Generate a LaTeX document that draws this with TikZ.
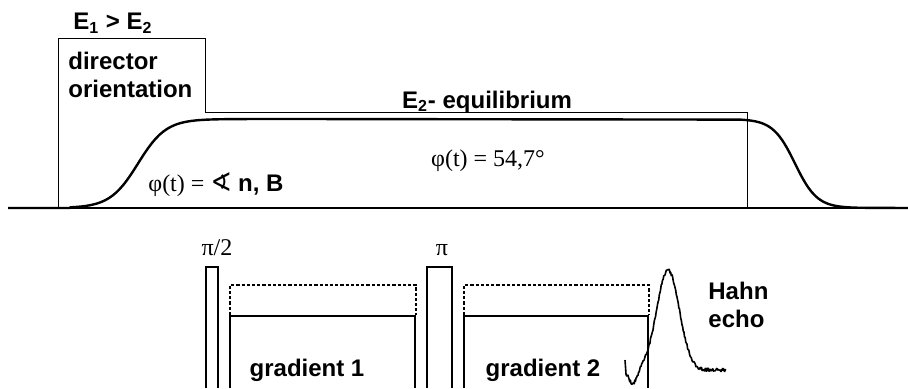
\documentclass[tikz,border=0pt]{standalone}
\usepackage{fontspec}
\setmainfont{Liberation Serif}
\setsansfont{Liberation Sans}
\newfontfamily\anglefont{DejaVu Sans}
\usetikzlibrary{positioning}
\tikzset{
  lbl/.style={font=\sffamily\bfseries\fontsize{12}{14}\selectfont, inner sep=0pt},
  formula/.style={font=\rmfamily\fontsize{12}{14}\selectfont, inner sep=0pt},
  field/.style={line width=0.5pt},
  trace/.style={line width=1.2pt, line join=round},
  pulse/.style={line width=0.9pt},
  gradmax/.style={line width=0.9pt, dash pattern=on 1.6pt off 1pt},
  echosig/.style={line width=0.8pt, line join=round},
}

\begin{document}
\begin{tikzpicture}[x=0.5pt, y=-0.5pt]
  \useasboundingbox (0,0) rectangle (908,388);
  % field steps and time axis
  \draw[field] (58,208) -- (58,38) -- (205,38) -- (205,112) -- (747,112) -- (747,208);
  \draw[line width=0.8pt] (8,208) -- (908,208);
  % director angle
  \draw[trace] (8,208) -- (70,208)
    -- plot[domain=70:300, samples=60] (\x, {208-89/(1+exp(-(\x-138)/14))})
    -- plot[domain=740:860, samples=50] (\x, {119+89/(1+exp(-(\x-795)/11))})
    -- (908,208);
  \node[lbl, anchor=west] (e12) at (73,23) {E\textsubscript{1} > E\textsubscript{2}};
  \node[lbl, anchor=north west, align=left] (dir) at (68,52) {director\\orientation};
  \node[lbl, anchor=base] (equi) at (487,108) {E\textsubscript{2}- equilibrium};
  \node[formula, anchor=base] (magic) at (488,166) {φ(t) = 54,7°};
  \node[formula, anchor=base west] (phi) at (148,191)
    {φ(t) = {\anglefont\fontsize{13}{13}\selectfont ∢} {\sffamily\bfseries n, B}};
  % pulse sequence
  \draw[pulse] (206,388) -- (206,267) -- (218,267) -- (218,388);
  \draw[pulse] (427,388) -- (427,267) -- (452,267) -- (452,388);
  \node[formula, anchor=base] (p90) at (217,255) {π/2};
  \node[formula, anchor=base] (p180) at (442,255) {π};
  \draw[gradmax] (230,315) -- (230,285) -- (416,285) -- (416,315);
  \draw[pulse] (230,388) -- (230,316) -- (415,316) -- (415,388);
  \draw[gradmax] (464,315) -- (464,285) -- (649,285) -- (649,315);
  \draw[pulse] (464,388) -- (464,316) -- (648,316) -- (648,388);
  \node[lbl, anchor=base] (g1) at (307,376) {gradient 1};
  \node[lbl, anchor=base] (g2) at (543,376) {gradient 2};
  % echo
  \pgfmathsetseed{12}
  \draw[echosig] (625,360)
    -- plot[domain=626:726, samples=160]
       (\x, {370-100*exp(-(\x-668)*(\x-668)/256)+14*exp(-(\x-633)*(\x-633)/36)+1.6*rand});
  \node[lbl, anchor=north west, align=left] (hahn) at (708,282) {Hahn\\echo};
\end{tikzpicture}
\end{document}
